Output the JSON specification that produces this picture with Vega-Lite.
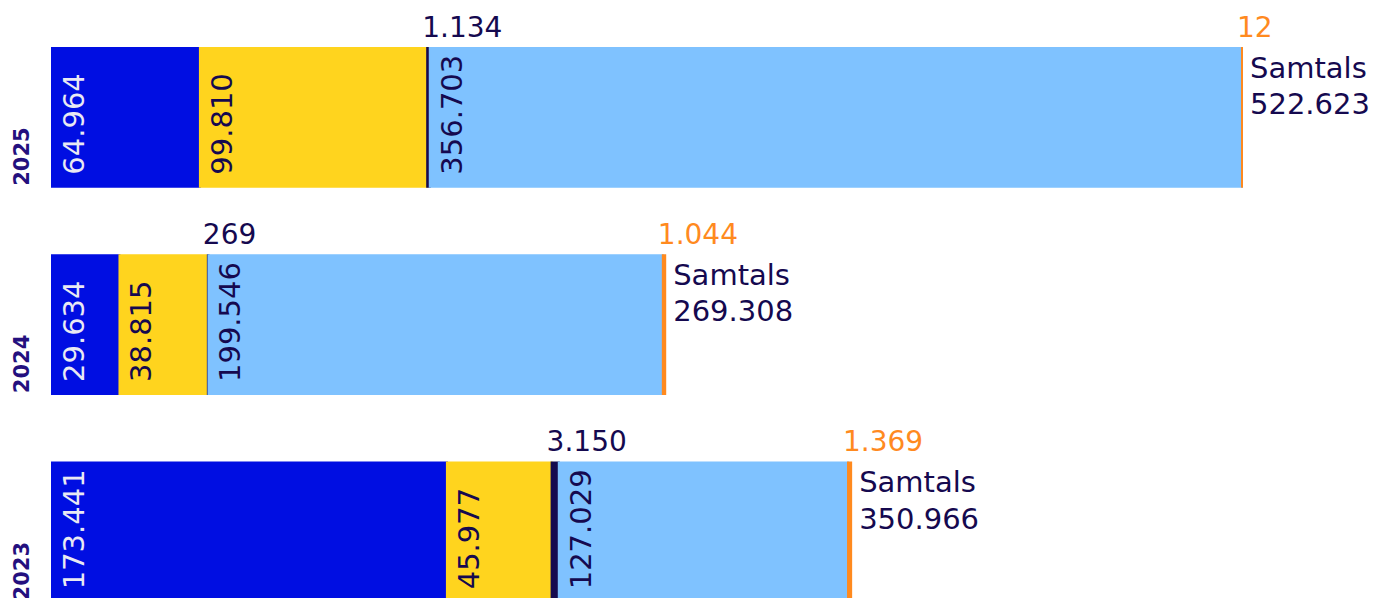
{
  "$schema": "https://vega.github.io/schema/vega-lite/v6.json",
  "width": 1190,
  "height": 598,
  "autosize": {"type": "none"},
  "padding": {"left": 52, "top": 0, "right": 143, "bottom": 0},
  "background": "white",
  "config": {"view": {"stroke": null}, "font": "DejaVu Sans"},
  "datasets": {
    "segments": [
      {"year": "2025", "cat": "c1", "k": 1, "value": 64964, "label": "64.964"},
      {"year": "2025", "cat": "c2", "k": 2, "value": 99810, "label": "99.810"},
      {"year": "2025", "cat": "c3", "k": 3, "value": 1134, "label": "1.134"},
      {"year": "2025", "cat": "c4", "k": 4, "value": 356703, "label": "356.703"},
      {"year": "2025", "cat": "c5", "k": 5, "value": 12, "label": "12"},
      {"year": "2024", "cat": "c1", "k": 1, "value": 29634, "label": "29.634"},
      {"year": "2024", "cat": "c2", "k": 2, "value": 38815, "label": "38.815"},
      {"year": "2024", "cat": "c3", "k": 3, "value": 269, "label": "269"},
      {"year": "2024", "cat": "c4", "k": 4, "value": 199546, "label": "199.546"},
      {"year": "2024", "cat": "c5", "k": 5, "value": 1044, "label": "1.044"},
      {"year": "2023", "cat": "c1", "k": 1, "value": 173441, "label": "173.441"},
      {"year": "2023", "cat": "c2", "k": 2, "value": 45977, "label": "45.977"},
      {"year": "2023", "cat": "c3", "k": 3, "value": 3150, "label": "3.150"},
      {"year": "2023", "cat": "c4", "k": 4, "value": 127029, "label": "127.029"},
      {"year": "2023", "cat": "c5", "k": 5, "value": 1369, "label": "1.369"}
    ],
    "totals": [
      {"year": "2025", "total": 522623, "label": "Samtals\n522.623"},
      {"year": "2024", "total": 269308, "label": "Samtals\n269.308"},
      {"year": "2023", "total": 350966, "label": "Samtals\n350.966"}
    ]
  },
  "data": {"name": "segments"},
  "transform": [
    {"stack": "value", "groupby": ["year"], "sort": [{"field": "k", "order": "ascending"}], "as": ["x0", "x1"]}
  ],
  "layer": [
    {
      "mark": {"type": "bar", "strokeWidth": 2},
      "encoding": {
        "x": {"field": "x0", "type": "quantitative", "scale": {"domain": [0, 522623], "nice": false, "zero": true}, "axis": null},
        "x2": {"field": "x1"},
        "y": {
          "field": "year", "type": "nominal", "sort": ["2025", "2024", "2023"],
          "scale": {"range": [48, 601.3], "paddingInner": 0.331, "paddingOuter": 0},
          "axis": {
            "title": null, "domain": false, "ticks": false, "grid": false,
            "labelAngle": 270, "labelAlign": "left", "labelBaseline": "middle",
            "labelPadding": 30, "labelOffset": 68.5,
            "labelFont": "DejaVu Sans", "labelFontWeight": "bold", "labelFontSize": 21,
            "labelColor": "#24107E"
          }
        },
        "color": {"field": "cat", "type": "nominal", "scale": {"domain": ["c1", "c2", "c3", "c4", "c5"], "range": ["#000EE2", "#FFD41E", "#150A4F", "#7FC2FF", "#FF8A1F"]}, "legend": null},
        "stroke": {"field": "cat", "type": "nominal", "scale": {"domain": ["c1", "c2", "c3", "c4", "c5"], "range": ["#000EE2", "#FFD41E", "#150A4F", "#7FC2FF", "#FF8A1F"]}, "legend": null}
      }
    },
    {
      "transform": [{"filter": "datum.k == 1 || datum.k == 2 || datum.k == 4"}],
      "mark": {"type": "text", "angle": 270, "align": "left", "baseline": "top", "fontSize": 29, "xOffset": 9, "yOffset": -12, "font": "DejaVu Sans"},
      "encoding": {
        "x": {"field": "x0", "type": "quantitative"},
        "y": {"field": "year", "type": "nominal", "sort": ["2025", "2024", "2023"], "bandPosition": 1},
        "text": {"field": "label"},
        "color": {"condition": {"test": "datum.k == 1", "value": "#E9E9F3"}, "value": "#15094F"}
      }
    },
    {
      "transform": [{"filter": "datum.k == 3 || datum.k == 5"}],
      "mark": {"type": "text", "align": "left", "baseline": "alphabetic", "fontSize": 28, "xOffset": -5, "yOffset": -11.5, "font": "DejaVu Sans"},
      "encoding": {
        "x": {"field": "x0", "type": "quantitative"},
        "y": {"field": "year", "type": "nominal", "sort": ["2025", "2024", "2023"], "bandPosition": 0},
        "text": {"field": "label"},
        "color": {"condition": {"test": "datum.k == 5", "value": "#FF8A1F"}, "value": "#15094F"}
      }
    },
    {
      "data": {"name": "totals"},
      "mark": {"type": "text", "align": "left", "baseline": "alphabetic", "fontSize": 29, "lineBreak": "\n", "lineHeight": 36.5, "xOffset": 8, "yOffset": 29.5, "font": "DejaVu Sans", "color": "#15094F"},
      "encoding": {
        "x": {"field": "total", "type": "quantitative"},
        "y": {"field": "year", "type": "nominal", "sort": ["2025", "2024", "2023"], "bandPosition": 0},
        "text": {"field": "label"}
      }
    }
  ]
}
